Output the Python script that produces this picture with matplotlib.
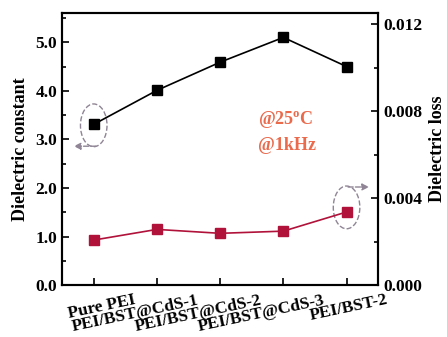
import numpy as np
import matplotlib
matplotlib.use("Agg")
import matplotlib.pyplot as plt
from matplotlib.patches import Ellipse
from matplotlib.ticker import MultipleLocator
import matplotlib.transforms as mtransforms

plt.rcParams['font.family'] = 'Liberation Serif'
plt.rcParams['font.weight'] = 'bold'
plt.rcParams['mathtext.fontset'] = 'custom'
plt.rcParams['mathtext.bf'] = 'Liberation Serif:bold'
plt.rcParams['mathtext.rm'] = 'Liberation Serif:bold'

samples = ['Pure PEI', 'PEI/BST@CdS-1', 'PEI/BST@CdS-2', 'PEI/BST@CdS-3', 'PEI/BST-2']
dielectric_constant = [3.31, 4.01, 4.59, 5.10, 4.50]
dielectric_loss = [0.00207, 0.00256, 0.00238, 0.00248, 0.00336]

x = np.arange(len(samples))

fig = plt.figure(figsize=(4.47, 3.37), dpi=100)
ax = fig.add_axes([0.139, 0.154, 0.707, 0.807])
ax2 = ax.twinx()

ax.plot(x, dielectric_constant, color='black', lw=1.2, marker='s', ms=6.5, zorder=3)
ax2.plot(x, dielectric_loss, color='#b0123a', lw=1.2, marker='s', ms=6.5, zorder=3)

ax.set_xlim(-0.5, 4.5)
ax.set_ylim(0, 5.6)
ax2.set_ylim(0, 0.0125)

ax.yaxis.set_major_locator(MultipleLocator(1.0))
ax.yaxis.set_minor_locator(MultipleLocator(0.5))
ax2.yaxis.set_major_locator(MultipleLocator(0.004))
ax2.yaxis.set_minor_locator(MultipleLocator(0.002))
ax.yaxis.set_major_formatter(plt.FormatStrFormatter('%.1f'))
ax2.yaxis.set_major_formatter(plt.FormatStrFormatter('%.3f'))

ax.set_xticks(x)
ax.set_xticklabels([])
# rotated category labels, shifted right of their ticks
shift = mtransforms.ScaledTranslation(0.43, -0.07, fig.dpi_scale_trans)
for xi, name in zip(x, samples):
    ax.text(xi, 0, name, transform=ax.get_xaxis_transform() + shift,
            rotation=12, ha='right', va='top', fontsize=12.5, fontweight='bold')

for a in (ax, ax2):
    a.tick_params(which='both', direction='in', labelsize=12.5, width=1.2)
    a.tick_params(which='major', length=5)
    a.tick_params(which='minor', length=3)
    for s in a.spines.values():
        s.set_linewidth(1.5)

ax.set_ylabel('Dielectric constant', fontsize=13, fontweight='bold', labelpad=5)
ax2.set_ylabel('Dielectric loss', fontsize=13, fontweight='bold', labelpad=5)

ax.text(2.6, 3.3, '@25$^{\\mathbf{o}}$C', color='#ea6a4c', fontsize=13, fontweight='bold')
ax.text(2.6, 2.78, '@1kHz', color='#ea6a4c', fontsize=13, fontweight='bold')

grey = '#8f8595'
ax.add_patch(Ellipse((0, 3.29), 0.42, 0.88, fill=False, ls='--', lw=1.0, ec=grey, zorder=2))
ax.annotate('', xy=(-0.36, 2.86), xytext=(0.08, 2.86),
            arrowprops=dict(arrowstyle='-|>', color=grey, lw=1.0, ls='--', mutation_scale=10))
ax.add_patch(Ellipse((4, 1.60), 0.42, 0.88, fill=False, ls='--', lw=1.0, ec=grey, zorder=2))
ax.annotate('', xy=(4.4, 2.02), xytext=(3.98, 2.02),
            arrowprops=dict(arrowstyle='-|>', color=grey, lw=1.0, ls='--', mutation_scale=10),
            annotation_clip=False)

fig.savefig('out.png', dpi=100)
